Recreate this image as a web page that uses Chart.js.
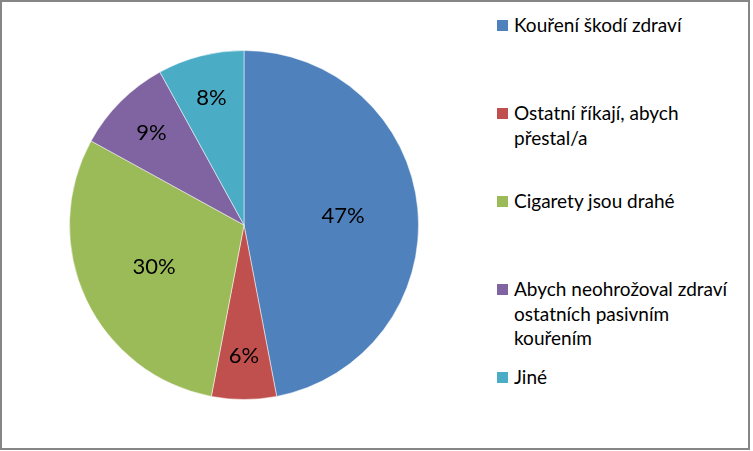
<!DOCTYPE html>
<html>
<head>
<meta charset="utf-8">
<script src="https://cdn.jsdelivr.net/npm/chart.js@4/dist/chart.umd.min.js"></script>
<style>
  html, body { margin: 0; padding: 0; background: #fff; }
  body { width: 753px; height: 451px; position: relative; overflow: hidden; font-family: Lato, "Open Sans", sans-serif; }
  #ramecek { position: absolute; left: 0; top: 0; width: 750px; height: 450px; border: 2px solid #868686; box-sizing: border-box; }
  #graf { position: absolute; left: 69px; top: 50px; }
  .polozka { position: absolute; left: 497px; font-size: 19px; line-height: 24.5px; color: #000; white-space: nowrap; }
  .ctverec { position: absolute; left: 0; top: 7px; width: 11px; height: 11px; }
  .text { position: absolute; left: 17px; top: 0; }
</style>
</head>
<body>
<div id="ramecek"></div>
<canvas id="graf" width="350" height="350"></canvas>
<div id="legenda"></div>
<script>
// kategorie (řádky legendy)
const kategorie = [
    ['Kouření škodí zdraví'],
    ['Ostatní říkají, abych', 'přestal/a'],
    ['Cigarety jsou drahé'],
    ['Abych neohrožoval zdraví', 'ostatních pasivním', 'kouřením'],
    ['Jiné']
];
// podíly v procentech
const hodnoty = [47, 6, 30, 9, 8];
// barvy výsečí
const barvy = ['#4F81BD', '#C0504D', '#9BBB59', '#8064A2', '#4BACC6'];

// Plugin pro popisky s procenty uvnitř výsečí
const popiskyPlugin = {
    id: 'popisky',
    afterDatasetsDraw(chart) {
        const ctx = chart.ctx;
        const meta = chart.getDatasetMeta(0);
        ctx.save();
        ctx.font = '22px Lato, "Open Sans", sans-serif';
        ctx.fillStyle = '#000';
        ctx.textAlign = 'center';
        ctx.textBaseline = 'middle';
        meta.data.forEach((arc, i) => {
            const p = arc.getProps(['x', 'y', 'startAngle', 'endAngle', 'outerRadius']);
            const uhel = (p.startAngle + p.endAngle) / 2;
            const r = p.outerRadius * (hodnoty[i] < 15 ? 0.75 : 0.57);
            ctx.fillText(hodnoty[i] + '%', p.x + Math.cos(uhel) * r, p.y + Math.sin(uhel) * r);
        });
        ctx.restore();
    }
};

new Chart(document.getElementById('graf'), {
    type: 'pie',
    data: {
        labels: kategorie.map(k => k.join(' ')),
        datasets: [{
            data: hodnoty,
            backgroundColor: barvy,
            borderColor: 'rgba(255,255,255,0.5)',
            borderWidth: 1
        }]
    },
    options: {
        responsive: false,
        animation: false,
        layout: { padding: 0 },
        plugins: {
            legend: { display: false },
            tooltip: { enabled: false }
        }
    },
    plugins: [popiskyPlugin]
});

// Legenda vpravo - položky rovnoměrně po 88 px
const legenda = document.getElementById('legenda');
kategorie.forEach((radky, i) => {
    const el = document.createElement('div');
    el.className = 'polozka';
    el.style.top = (13 + i * 88) + 'px';
    const ctverec = document.createElement('div');
    ctverec.className = 'ctverec';
    ctverec.style.background = barvy[i];
    const text = document.createElement('div');
    text.className = 'text';
    text.innerHTML = radky.join('<br>');
    el.appendChild(ctverec);
    el.appendChild(text);
    legenda.appendChild(el);
});
</script>
</body>
</html>
